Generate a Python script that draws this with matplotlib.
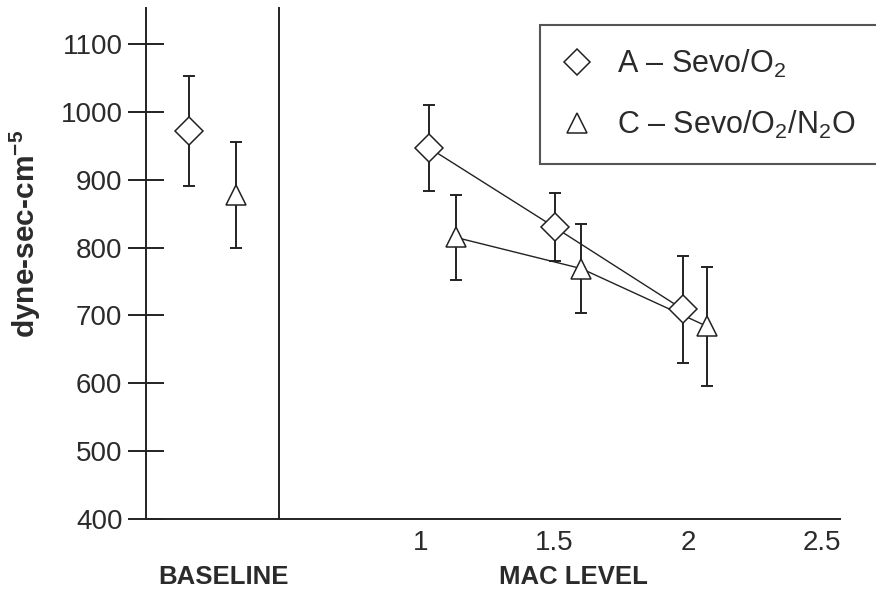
import matplotlib
matplotlib.use("Agg")
import matplotlib.pyplot as plt
from matplotlib.lines import Line2D
from matplotlib.patches import Rectangle

# values
baseline_x = [0.32, 0.68]
baseline_mean = [972, 877]
baseline_err = [81, 78]

mac_a_x = [1.03, 1.5, 1.98]
mac_a_mean = [947, 830, 709]
mac_a_err = [63, 50, 79]

mac_c_x = [1.13, 1.6, 2.07]
mac_c_mean = [815, 769, 684]
mac_c_err = [63, 66, 88]

y_ticks = [400, 500, 600, 700, 800, 900, 1000, 1100]
mac_ticks = [1, 1.5, 2, 2.5]
mac_tick_labels = ["1", "1.5", "2", "2.5"]

label_a = "A \u2013 Sevo/O$_2$"
label_c = "C \u2013 Sevo/O$_2$/N$_2$O"

INK = "#222222"
TXT = "#2b2b2b"

plt.rcParams["font.family"] = ["Liberation Sans", "DejaVu Sans"]
plt.rcParams["mathtext.fontset"] = "custom"
plt.rcParams["mathtext.rm"] = "Liberation Sans"
plt.rcParams["mathtext.it"] = "Liberation Sans:italic"
plt.rcParams["mathtext.bf"] = "Liberation Sans:bold"

W, H = 876, 597
fig = plt.figure(figsize=(W / 100, H / 100), dpi=100)

ax_l, ax_div, ax_r = 146 / W, 279 / W, 840 / W
ax_b, ax_t = 1 - 519 / H, 1 - 8 / H
ax1 = fig.add_axes([ax_l, ax_b, ax_div - ax_l, ax_t - ax_b])
ax2 = fig.add_axes([ax_div, ax_b, ax_r - ax_div, ax_t - ax_b], sharey=ax1)

for ax in (ax1, ax2):
    for s in ("top", "right"):
        ax.spines[s].set_visible(False)
    for s in ("left", "bottom"):
        ax.spines[s].set_linewidth(1.4)
        ax.spines[s].set_color(INK)
    ax.set_facecolor("none")

err_kw = dict(fmt="none", ecolor=INK, elinewidth=1.4, capsize=4, capthick=1.4, zorder=2)
mk_a = dict(marker="D", markersize=14, markerfacecolor="white",
            markeredgecolor=INK, markeredgewidth=1.1, linestyle="none", zorder=4)
mk_c = dict(marker="^", markersize=15, markerfacecolor="white",
            markeredgecolor=INK, markeredgewidth=1.1, linestyle="none", zorder=4)

# baseline panel
ax1.errorbar(baseline_x, baseline_mean, yerr=baseline_err, **err_kw)
ax1.plot(baseline_x[0], baseline_mean[0], **mk_a)
ax1.plot(baseline_x[1], baseline_mean[1], **mk_c)
ax1.set_xlim(0, 1)
ax1.set_ylim(400, 1153)
ax1.set_xticks([])
ax1.set_yticks(y_ticks)
ax1.tick_params(axis="y", direction="inout", length=26, width=1.4, color=INK,
                pad=4, labelsize=20, labelcolor=TXT)

# MAC level panel
ax2.plot(mac_a_x, mac_a_mean, color=INK, lw=1.0, zorder=3)
ax2.plot(mac_c_x, mac_c_mean, color=INK, lw=1.0, zorder=3)
ax2.errorbar(mac_a_x, mac_a_mean, yerr=mac_a_err, **err_kw)
ax2.errorbar(mac_c_x, mac_c_mean, yerr=mac_c_err, **err_kw)
ax2.plot(mac_a_x, mac_a_mean, **mk_a)
ax2.plot(mac_c_x, mac_c_mean, **mk_c)
ax2.set_xlim(0.469, 2.568)
ax2.set_xticks(mac_ticks)
ax2.set_xticklabels(mac_tick_labels)
ax2.tick_params(axis="x", length=0, pad=8, labelsize=20, labelcolor=TXT)
ax2.tick_params(axis="y", left=False, labelleft=False)

# axis titles
fig.text(25 / W, 1 - 234 / H, "dyne-sec-cm$^{\\mathbf{-5}}$", rotation=90,
         ha="center", va="center", fontsize=21.5, fontweight="bold", color=TXT)
fig.text(224 / W, 1 - 577 / H, "BASELINE", ha="center", va="center",
         fontsize=18.5, fontweight="bold", color=TXT)
fig.text(573 / W, 1 - 577 / H, "MAC LEVEL", ha="center", va="center",
         fontsize=18.5, fontweight="bold", color=TXT)

# legend with a box that runs off the right edge
fig.patches.append(Rectangle((540 / W, 1 - 164 / H), (900 - 540) / W, (164 - 25) / H,
                             transform=fig.transFigure, facecolor="white",
                             edgecolor="#555555", lw=1.5, zorder=5))
handles = [Line2D([], [], **{**mk_a, "markersize": 13}),
           Line2D([], [], **{**mk_c, "markersize": 14})]
leg = fig.legend(handles, [label_a, label_c], loc="upper left",
                 bbox_to_anchor=(560 / W, 1 - 48 / H), frameon=False,
                 fontsize=22, handlelength=1.1, handletextpad=0.75,
                 labelspacing=0.95, borderpad=0, borderaxespad=0)
leg.set_zorder(6)
for t in leg.get_texts():
    t.set_color(TXT)

fig.savefig("out.png", dpi=100)
